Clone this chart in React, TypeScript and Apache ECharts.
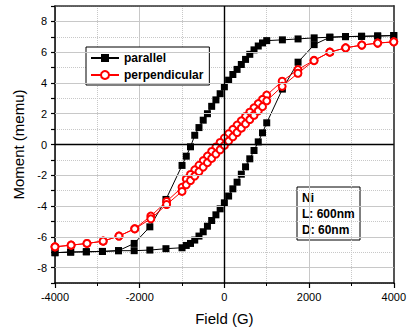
import React, { useEffect, useRef } from "react";
import * as echarts from "echarts";

const FONT = '"Liberation Sans", Arial, sans-serif';

// parallel loop: descending branch (from +4000 G) then ascending branch
const parDescField = [4000, 3620, 3240, 2860, 2490, 2120, 1740, 1370, 1000, 900, 800, 700, 600, 500, 400, 300, 200, 100, 0, -100, -200, -300, -400, -500, -600, -700, -800, -900, -1000, -1380, -1760, -2130, -2500, -2880, -3260, -3630, -4000];
const parDescMoment = [7.08, 7.05, 7.03, 7.01, 6.97, 6.93, 6.86, 6.8, 6.75, 6.6, 6.4, 6.15, 5.86, 5.53, 5.2, 4.88, 4.55, 4.18, 3.75, 3.3, 2.9, 2.48, 2.0, 1.58, 1.1, 0.6, -0.15, -0.76, -1.36, -3.57, -5.35, -6.43, -6.9, -6.95, -6.97, -6.99, -7.03];
const parAscField = [-4000, -3630, -3260, -2880, -2500, -2130, -1760, -1380, -1000, -900, -800, -700, -600, -500, -400, -300, -200, -100, 0, 100, 200, 300, 400, 500, 600, 700, 800, 900, 1000, 1370, 1740, 2120, 2490, 2860, 3240, 3620, 4000];
const parAscMoment = [-7.03, -6.99, -6.97, -6.95, -6.9, -6.9, -6.86, -6.77, -6.71, -6.56, -6.43, -6.21, -5.95, -5.67, -5.31, -4.94, -4.57, -4.18, -3.79, -3.35, -2.88, -2.45, -1.93, -1.45, -0.93, -0.39, 0.17, 0.76, 1.41, 3.6, 5.35, 6.49, 6.97, 7.01, 7.03, 7.05, 7.08];

// perpendicular loop
const perDescField = [4000, 3620, 3245, 2863, 2490, 2117, 1737, 1364, 1000, 900, 800, 700, 600, 500, 400, 300, 200, 100, 0, -100, -200, -300, -400, -500, -600, -700, -800, -900, -1000, -1364, -1737, -2117, -2490, -2863, -3245, -3620, -4000];
const perDescMoment = [6.67, 6.59, 6.46, 6.28, 6.0, 5.47, 4.87, 4.11, 3.21, 2.93, 2.66, 2.38, 2.1, 1.82, 1.54, 1.26, 0.98, 0.7, 0.42, 0.13, -0.16, -0.45, -0.75, -1.05, -1.35, -1.65, -1.95, -2.25, -2.78, -3.7, -4.65, -5.47, -5.95, -6.28, -6.43, -6.54, -6.65];
const perAscField = [-4000, -3620, -3245, -2863, -2490, -2117, -1737, -1364, -1000, -900, -800, -700, -600, -500, -400, -300, -200, -100, 0, 100, 200, 300, 400, 500, 600, 700, 800, 900, 1000, 1364, 1737, 2117, 2490, 2863, 3245, 3620, 4000];
const perAscMoment = [-6.65, -6.54, -6.43, -6.28, -5.95, -5.48, -4.83, -3.9, -3.05, -2.62, -2.34, -2.05, -1.76, -1.47, -1.18, -0.9, -0.62, -0.34, -0.06, 0.22, 0.5, 0.78, 1.06, 1.34, 1.62, 1.9, 2.18, 2.46, 2.84, 3.78, 4.63, 5.45, 6.0, 6.28, 6.46, 6.59, 6.67];

const xTicks = { min: -4000, max: 4000, interval: 2000 };
const yTicks = { min: -9, max: 9, interval: 1 };
const yMajorLines = [-8, -6, -4, -2, 2, 4, 6, 8];

const infoLines = ["Ni", "L: 600nm", "D: 60nm"];

const pairs = (xs: number[], ys: number[]) => xs.map((x, i) => [x, ys[i]]);

export default function App() {
  const ref = useRef<HTMLDivElement>(null);
  useEffect(() => {
    if (!ref.current) return;
    const chart = echarts.init(ref.current, undefined, { renderer: "svg" });
    const gray = "#c8c8c8";
    chart.setOption({
      animation: false,
      backgroundColor: "#fff",
      grid: { left: 55, right: 11, top: 6, bottom: 49 },
      legend: {
        data: ["parallel", "perpendicular"],
        orient: "vertical",
        left: 86,
        top: 47,
        padding: [5, 6, 4, 4],
        itemGap: 5,
        itemWidth: 28,
        itemHeight: 10,
        borderColor: "#000",
        borderWidth: 1,
        borderRadius: 0,
        backgroundColor: "#fff",
        textStyle: { fontSize: 12, fontWeight: "bold", fontFamily: FONT, color: "#000" },
      },
      xAxis: [
        {
          type: "value",
          ...xTicks,
          name: "Field (G)",
          nameLocation: "middle",
          nameGap: 28,
          nameTextStyle: { fontSize: 15, fontFamily: FONT, color: "#000" },
          axisLine: { onZero: false, lineStyle: { color: "#000", width: 1.5 } },
          axisTick: { length: 5, lineStyle: { color: "#000", width: 1.2 } },
          minorTick: { show: true, splitNumber: 2, length: 3, lineStyle: { color: "#000", width: 1 } },
          axisLabel: { fontSize: 11, fontFamily: FONT, color: "#000", margin: 8, formatter: (v: number) => String(v) },
          splitLine: { show: true, lineStyle: { color: gray, width: 1 } },
          minorSplitLine: { show: true, lineStyle: { color: gray, width: 1, type: "dotted" } },
        },
        {
          type: "value",
          ...xTicks,
          position: "top",
          axisLine: { onZero: false, lineStyle: { color: "#333", width: 1.5 } },
          axisTick: { show: false },
          axisLabel: { show: false },
          splitLine: { show: false },
        },
      ],
      yAxis: [
        {
          type: "value",
          ...yTicks,
          name: "Moment (memu)",
          nameLocation: "middle",
          nameGap: 27,
          nameTextStyle: { fontSize: 15, fontFamily: FONT, color: "#000" },
          axisLine: { onZero: false, lineStyle: { color: "#000", width: 1.5 } },
          axisTick: { length: 4, lineStyle: { color: "#000", width: 1.2 } },
          axisLabel: {
            fontSize: 11,
            fontFamily: FONT,
            color: "#000",
            margin: 8,
            formatter: (v: number) => (v % 2 === 0 ? String(v) : ""),
          },
          splitLine: { show: true, lineStyle: { color: gray, width: 1, type: "dotted" } },
        },
        {
          type: "value",
          ...yTicks,
          position: "right",
          axisLine: { onZero: false, lineStyle: { color: "#555", width: 2 } },
          axisTick: { show: false },
          axisLabel: { show: false },
          splitLine: { show: false },
        },
      ],
      series: [
        {
          name: "gridlines",
          type: "line",
          data: [],
          z: 1,
          silent: true,
          markLine: {
            silent: true,
            symbol: "none",
            label: { show: false },
            lineStyle: { color: gray, width: 1, type: "solid" },
            data: [
              ...yMajorLines.map((v) => ({ yAxis: v })),
              { yAxis: 0, lineStyle: { color: "#000", width: 1.4, type: "solid" } },
              { xAxis: 0, lineStyle: { color: "#000", width: 1.4, type: "solid" } },
            ],
          },
        },
        {
          name: "parallel",
          type: "line",
          z: 3,
          data: [...pairs(parDescField, parDescMoment), ...pairs(parAscField, parAscMoment)],
          symbol: "rect",
          symbolSize: 7,
          itemStyle: { color: "#000" },
          lineStyle: { color: "#000", width: 1 },
        },
        {
          name: "perpendicular",
          type: "line",
          z: 4,
          data: [...pairs(perDescField, perDescMoment), ...pairs(perAscField, perAscMoment)],
          symbol: "emptyCircle",
          symbolSize: 7,
          itemStyle: { color: "#ff0000", borderWidth: 1.1 },
          lineStyle: { color: "#ff0000", width: 1 },
        },
      ],
      graphic: [
        {
          type: "group",
          z: 100,
          children: [
            {
              type: "rect",
              shape: { x: 297, y: 187, width: 63, height: 53 },
              style: { fill: "#fff", stroke: "#000", lineWidth: 1 },
            },
            ...infoLines.map((t, i) => ({
              type: "text",
              x: 302,
              y: 198 + i * 16,
              style: {
                text: t,
                fontSize: 12,
                fontWeight: "bold",
                fontFamily: FONT,
                fill: "#000",
                verticalAlign: "middle",
              },
            })),
          ],
        },
      ],
    });
    return () => chart.dispose();
  }, []);
  return <div ref={ref} style={{ width: 409, height: 332, position: "fixed", left: 0, top: 0 }} />;
}
